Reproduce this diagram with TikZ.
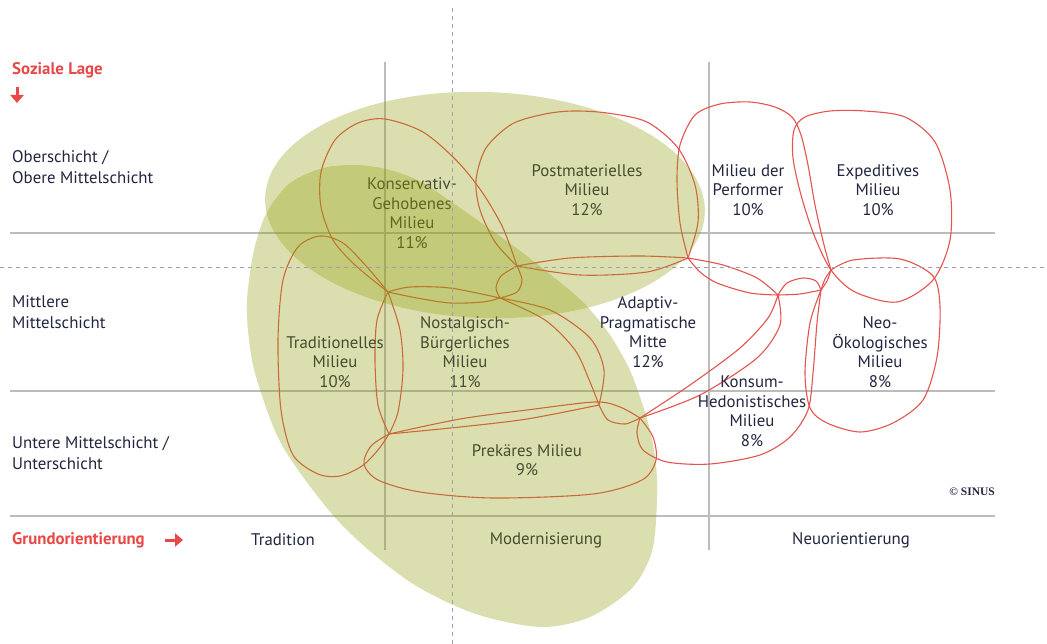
\documentclass[tikz,border=0pt]{standalone}
\usepackage{fontspec}
\setmainfont{PT Sans}
\newfontfamily\sinusfont{Liberation Serif}
\usetikzlibrary{arrows.meta}
\definecolor{txt}{RGB}{34,38,64}
\definecolor{redlab}{RGB}{232,72,72}
\definecolor{mline}{RGB}{228,84,80}
\definecolor{gridc}{RGB}{188,188,188}
\definecolor{dashc}{RGB}{160,160,175}
\definecolor{olive}{RGB}{146,158,10}
\begin{document}
\begin{tikzpicture}[x=1pt,y=-1pt,
  milieuline/.style={draw=mline, line width=1.1pt, line join=round},
  gridline/.style={draw=gridc, line width=1.4pt},
  dashline/.style={draw=dashc, line width=1pt, dash pattern=on 4pt off 4pt},
  greenblob/.style={fill=olive, fill opacity=0.32},
  miltext/.style={text=txt, align=center, inner sep=0pt, font=\fontsize{16.8}{19.5}\selectfont},
  sidetext/.style={text=txt, align=left, anchor=west, inner sep=0pt, font=\fontsize{16.8}{21}\selectfont},
  axistext/.style={text=txt, inner sep=0pt, font=\fontsize{16.8}{19}\selectfont},
  redtext/.style={text=redlab, anchor=west, inner sep=0pt, font=\bfseries\fontsize{16.8}{19}\selectfont},
  redarrow/.style={draw=redlab, line width=3pt, -{Triangle[length=8pt,width=13pt]}}
]
\useasboundingbox[fill=white] (0,0) rectangle (1047,644);

% grid
\draw[gridline] (10,233) -- (995,233);
\draw[gridline] (10,391) -- (995,391);
\draw[gridline] (10,516) -- (995,516);
\draw[gridline] (385,62) -- (385,550);
\draw[gridline] (709,62) -- (709,550);

% knots
\coordinate (K1) at (388,292);
\coordinate (K2) at (517,266);
\coordinate (K3) at (500,298);
\coordinate (K4) at (688,258);
\coordinate (K5) at (831,270);
\coordinate (K6) at (821,290);
\coordinate (K7) at (778,295);
\coordinate (K8) at (640,418);
\coordinate (K9) at (599,405);
\coordinate (K10) at (389,434);

% Konservativ-Gehobenes
\draw[milieuline] plot[smooth] coordinates {(K1) (355,265) (333,240) (321,207) (321,172) (335,140) (358,123) (385,119) (423,132) (457,161) (482,192) (503,228) (K2)}
  -- plot[smooth] coordinates {(K2) (501,276) (496,288) (K3)}
  -- plot[smooth] coordinates {(K3) (483,302) (450,303) (417,298) (K1)} -- cycle;
% Postmaterielles
\draw[milieuline] plot[smooth] coordinates {(K2) (495,242) (480,210) (476,180) (486,148) (512,124) (545,114) (573,111) (607,113) (647,122) (678,148) (695,185) (698,222) (K4)}
  -- plot[smooth] coordinates {(K4) (640,256) (570,258) (K2)} -- cycle;
% Adaptiv-Pragmatische
\draw[milieuline] plot[smooth] coordinates {(K2) (580,275) (647,272) (K4)}
  -- plot[smooth] coordinates {(K4) (700,272) (717,283) (750,293) (K7)}
  -- plot[smooth] coordinates {(K7) (768,318) (740,348) (690,385) (K8)}
  -- plot[smooth] coordinates {(K8) (625,424) (608,420) (K9)}
  -- plot[smooth] coordinates {(K9) (590,382) (575,350) (545,320) (K3)}
  -- plot[smooth] coordinates {(K3) (517,292) (522,280) (K2)} -- cycle;
% Nostalgisch-Buergerliches
\draw[milieuline] plot[smooth] coordinates {(K1) (410,287) (450,288) (K3)}
  -- plot[smooth] coordinates {(K3) (550,310) (590,338) (604,370) (K9)}
  -- plot[smooth] coordinates {(K9) (527,419) (460,427) (K10)}
  -- plot[smooth] coordinates {(K10) (378,405) (375,360) (377,320) (K1)} -- cycle;
% Traditionelles
\draw[milieuline] plot[smooth] coordinates {(K1) (367,267) (343,243) (320,236) (298,247) (283,280) (278,340) (281,410) (293,455) (318,474) (340,476) (362,466) (378,450) (K10)}
  -- plot[smooth] coordinates {(K10) (398,412) (403,370) (400,330) (K1)} -- cycle;
% Prekaeres
\draw[milieuline] plot[smooth] coordinates {(K10) (460,419) (527,410) (595,402) (620,407) (K8)}
  -- plot[smooth] coordinates {(K8) (653,437) (656,460) (642,480) (593,494) (493,498) (420,492) (378,480) (364,464) (371,446) (K10)} -- cycle;
% Konsum-Hedonistisches
\draw[milieuline] plot[smooth] coordinates {(K8) (700,395) (757,358) (780,325) (K7)}
  -- plot[smooth] coordinates {(K7) (787,283) (803,278) (816,281) (K6)}
  -- plot[smooth] coordinates {(K6) (817,323) (813,373) (808,410) (790,437) (760,455) (710,464) (667,462) (643,450) (637,433) (K8)} -- cycle;
% Performer
\draw[milieuline] plot[smooth] coordinates {(K4) (680,223) (677,180) (680,145) (695,115) (720,104) (750,102) (775,107) (792,117) (801,135) (808,165) (815,205) (824,245) (K5)}
  -- plot[smooth] coordinates {(K5) (827,281) (K6)}
  -- plot[smooth] coordinates {(K6) (800,294) (K7)}
  -- plot[smooth] coordinates {(K7) (757,278) (723,265) (K4)} -- cycle;
% Expeditives
\draw[milieuline] plot[smooth cycle] coordinates {(K5) (814,235) (801,195) (793,158) (794,130) (805,117) (830,111) (865,111) (905,117) (935,142) (950,190) (950,240) (933,280) (897,302) (855,292)};
% Neo-Oekologisches
\draw[milieuline] plot[smooth] coordinates {(K5) (853,260) (900,259) (933,276) (940,307) (937,357) (923,400) (893,423) (860,432) (827,423) (810,408) (805,373) (810,323) (K6)}
  -- plot[smooth] coordinates {(K6) (825,279) (K5)} -- cycle;

% milieu texts
\node[miltext] (kg) at (412,213) {Konservativ-\\Gehobenes\\Milieu\\11\%};
\node[miltext] (pm) at (587,190) {Postmaterielles\\Milieu\\12\%};
\node[miltext] (pf) at (748,190) {Milieu der\\Performer\\10\%};
\node[miltext] (ex) at (878,190) {Expeditives\\Milieu\\10\%};
\node[miltext] (tr) at (335,362) {Traditionelles\\Milieu\\10\%};
\node[miltext] (no) at (465,352) {Nostalgisch-\\Bürgerliches\\Milieu\\11\%};
\node[miltext] (ap) at (648,332) {Adaptiv-\\Pragmatische\\Mitte\\12\%};
\node[miltext] (ko) at (752,411) {Konsum-\\Hedonistisches\\Milieu\\8\%};
\node[miltext] (ne) at (880,352) {Neo-\\Ökologisches\\Milieu\\8\%};
\node[miltext] (pr) at (527,460) {Prekäres Milieu\\9\%};

% side labels
\node[sidetext] (ob) at (12,167) {Oberschicht /\\Obere Mittelschicht};
\node[sidetext] (mi) at (12,312) {Mittlere\\Mittelschicht};
\node[sidetext] (un) at (12,453) {Untere Mittelschicht /\\Unterschicht};

\node[redtext] (sl) at (12,70) {Soziale Lage};
\coordinate (slA) at (17,87);
\coordinate (slB) at (17,103);
\draw[redarrow] (slA) -- (slB);
\node[redtext] (go) at (12,540) {Grundorientierung};
\coordinate (goA) at (165,540);
\coordinate (goB) at (183,540);
\draw[redarrow] (goA) -- (goB);

\node[axistext] (t1) at (283,540) {Tradition};
\node[axistext] (t2) at (546,540) {Modernisierung};
\node[axistext] (t3) at (851,540) {Neuorientierung};
\node[text=txt, anchor=east, inner sep=0pt, font=\sinusfont\bfseries\fontsize{11.5}{13}\selectfont] (si) at (995,492) {© SINUS};

% green areas
\fill[greenblob] plot[smooth cycle] coordinates {(357,165) (390,170) (423,183) (473,217) (523,253) (573,293) (592,312) (612,338) (632,375) (650,430) (657,480) (653,547) (633,587) (590,617) (540,627) (473,613) (407,580) (340,523) (283,447) (257,380) (249,340) (247,300) (254,250) (267,212) (290,183) (323,168)};
\fill[greenblob, rotate around={-2:(485,205)}] (485,205) ellipse [x radius=220pt, y radius=113pt];

% dashed axes
\draw[dashline] (0,268) -- (1047,268);
\draw[dashline] (452,8) -- (452,644);
\end{tikzpicture}
\end{document}
